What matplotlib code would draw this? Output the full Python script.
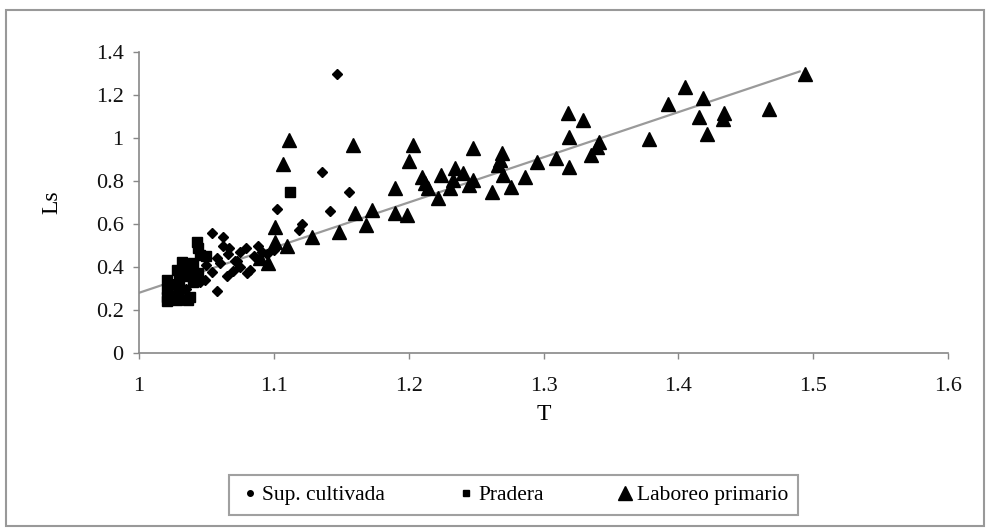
import numpy as np
import matplotlib.pyplot as plt
from matplotlib.patches import Rectangle

plt.rcParams['font.family'] = ['Liberation Serif', 'DejaVu Serif']

# Sup. cultivada
cult_x = [1.147, 1.136, 1.156, 1.102, 1.142, 1.121, 1.119, 1.054, 1.062, 1.062,
          1.067, 1.075, 1.058, 1.050, 1.060, 1.071, 1.054, 1.079, 1.088, 1.091,
          1.073, 1.082, 1.075, 1.065, 1.085, 1.045, 1.035, 1.049, 1.100, 1.070,
          1.080, 1.095, 1.025, 1.040, 1.058, 1.066]
cult_y = [1.30, 0.84, 0.75, 0.67, 0.66, 0.60, 0.57, 0.56, 0.54, 0.50,
          0.49, 0.47, 0.29, 0.41, 0.42, 0.43, 0.377, 0.49, 0.50, 0.47,
          0.43, 0.386, 0.40, 0.36, 0.45, 0.33, 0.30, 0.34, 0.48, 0.38,
          0.37, 0.46, 0.32, 0.35, 0.44, 0.46]

# Pradera
prad_x = [1.112, 1.043, 1.044, 1.045, 1.032, 1.040, 1.028, 1.036, 1.044, 1.021,
          1.030, 1.040, 1.021, 1.021, 1.029, 1.038, 1.028, 1.036, 1.021, 1.030,
          1.050, 1.033]
prad_y = [0.75, 0.516, 0.49, 0.456, 0.423, 0.42, 0.386, 0.377, 0.37, 0.34,
          0.34, 0.33, 0.30, 0.26, 0.27, 0.26, 0.246, 0.246, 0.24, 0.30,
          0.45, 0.36]

# Laboreo primario
lab_x = [1.111, 1.159, 1.107, 1.160, 1.173, 1.101, 1.168, 1.128, 1.148, 1.110,
         1.096, 1.101, 1.090, 1.318, 1.329, 1.319, 1.341, 1.340, 1.203, 1.248,
         1.200, 1.269, 1.268, 1.266, 1.295, 1.309, 1.335, 1.319, 1.270, 1.286,
         1.276, 1.262, 1.210, 1.212, 1.214, 1.224, 1.234, 1.240, 1.233, 1.231,
         1.248, 1.245, 1.222, 1.190, 1.190, 1.199, 1.494, 1.405, 1.392, 1.418,
         1.415, 1.434, 1.433, 1.467, 1.421, 1.378]
lab_y = [0.99, 0.967, 0.88, 0.65, 0.665, 0.586, 0.595, 0.54, 0.563, 0.50,
         0.42, 0.516, 0.44, 1.116, 1.083, 1.005, 0.98, 0.958, 0.967, 0.953,
         0.893, 0.93, 0.897, 0.874, 0.889, 0.907, 0.92, 0.865, 0.828, 0.819,
         0.772, 0.749, 0.819, 0.79, 0.767, 0.828, 0.86, 0.837, 0.805, 0.767,
         0.805, 0.78, 0.72, 0.767, 0.65, 0.64, 1.30, 1.24, 1.16, 1.186,
         1.10, 1.116, 1.09, 1.135, 1.02, 0.995]

# trend line
trend_x = [1.0, 1.49]
trend_y = [0.28, 1.31]

fig = plt.figure(figsize=(9.9, 5.32), dpi=100)
ax = fig.add_axes([0.1404, 0.3365, 0.8172, 0.5655])

ax.plot(trend_x, trend_y, color='#9a9a9a', lw=1.6, zorder=1)
ax.plot(cult_x, cult_y, 'D', color='black', ms=5.5, ls='none', zorder=3)
ax.plot(prad_x, prad_y, 's', color='black', ms=6.5, ls='none', zorder=3)
ax.plot(lab_x, lab_y, '^', color='black', ms=10.5, ls='none', zorder=3)

ax.set_xlim(1, 1.6)
ax.set_ylim(0, 1.4)
ax.set_xticks(np.arange(1, 1.61, 0.1))
ax.set_xticklabels(['1', '1.1', '1.2', '1.3', '1.4', '1.5', '1.6'])
ax.set_yticks(np.arange(0, 1.41, 0.2))
ax.set_yticklabels(['0', '0.2', '0.4', '0.6', '0.8', '1', '1.2', '1.4'])
ax.tick_params(labelsize=16, labelcolor='#111111', color='#888888',
               length=4, width=1)
ax.tick_params(axis='x', pad=13)
ax.tick_params(axis='y', pad=7)
for s in ['top', 'right']:
    ax.spines[s].set_visible(False)
for s in ['left', 'bottom']:
    ax.spines[s].set_color('#888888')
    ax.spines[s].set_linewidth(1.2)

ax.set_xlabel('T', fontsize=17, labelpad=6)
ax.set_ylabel('Ls', fontsize=17)
ax.yaxis.set_label_coords(-0.095, 0.5)

h1, = ax.plot([], [], 'o', color='black', ms=4, ls='none')
h2, = ax.plot([], [], 's', color='black', ms=5, ls='none')
h3, = ax.plot([], [], '^', color='black', ms=9.5, ls='none')
leg = fig.legend([h1, h2, h3], ['Sup. cultivada', 'Pradera', 'Laboreo primario'],
                 loc='center', bbox_to_anchor=(0.519, 0.0695), ncol=3,
                 fontsize=15.5, frameon=True, fancybox=False, edgecolor='#888888',
                 handletextpad=0.05, columnspacing=3.3, borderpad=0.45,
                 handlelength=1.0, borderaxespad=0)
leg.get_frame().set_linewidth(1.5)

fig.patches.append(Rectangle((0.006, 0.012), 0.988, 0.97, transform=fig.transFigure,
                             fill=False, edgecolor='#999999', lw=1.5))

fig.savefig('out.png', dpi=100)
